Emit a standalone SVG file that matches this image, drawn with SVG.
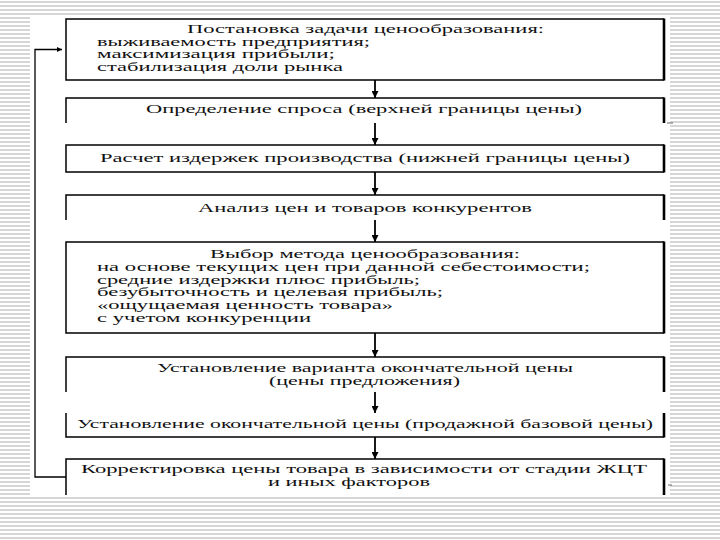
<svg xmlns="http://www.w3.org/2000/svg" width="720" height="540" viewBox="0 0 720 540">
<defs>
<pattern id="stripes" x="0" y="0" width="8" height="4" patternUnits="userSpaceOnUse">
<rect x="0" y="0" width="8" height="4" fill="#ffffff"/>
<rect x="0" y="1" width="8" height="2" fill="#d6d6d6"/>
</pattern>
<marker id="ah" viewBox="0 0 10 10" refX="10" refY="5" markerWidth="7" markerHeight="7" markerUnits="userSpaceOnUse" orient="auto">
<path d="M0,0 L10,5 L0,10 Z" fill="#000"/>
</marker>
<marker id="ahs" viewBox="0 0 10 10" refX="10" refY="5" markerWidth="6" markerHeight="5" markerUnits="userSpaceOnUse" orient="auto">
<path d="M0,0 L10,5 L0,10 Z" fill="#000"/>
</marker>
</defs>
<style>
.bx{fill:none;stroke:#000;stroke-width:1.5}
.rt{stroke:#000;stroke-width:2.6}
.t{font-family:"Liberation Serif","Times New Roman",serif;font-size:12.5px;fill:#111}
.ar{stroke:#000;stroke-width:1.8;fill:none;marker-end:url(#ah)}
.lp{stroke:#000;stroke-width:1.3;fill:none}
.dash{stroke:#666;stroke-width:1}
</style>
<rect x="0" y="0" width="720" height="540" fill="url(#stripes)"/>
<rect x="30" y="16" width="640" height="480" fill="#ffffff"/>

<g id="connectors">
<line class="ar" x1="375" y1="80" x2="375" y2="98"/>
<line class="ar" x1="375" y1="123" x2="375" y2="145"/>
<line class="ar" x1="375" y1="172" x2="375" y2="195"/>
<line class="ar" x1="375" y1="220" x2="375" y2="242"/>
<line class="ar" x1="375" y1="333" x2="375" y2="357"/>
<line class="ar" x1="375" y1="392" x2="375" y2="413"/>
<line class="ar" x1="375" y1="437" x2="375" y2="459"/>
<path class="lp" d="M66,477 H35 V49.5 H62" marker-end="url(#ahs)"/>
</g>

<g id="n1">
<path class="bx" d="M664,19 H66 V80 H664"/>
<line class="rt" x1="664" y1="18.5" x2="664" y2="80.5"/>
<text class="t" x="187" y="33" textLength="357" lengthAdjust="spacingAndGlyphs">Постановка задачи ценообразования:</text>
<text class="t" x="97" y="46" textLength="273" lengthAdjust="spacingAndGlyphs">выживаемость предприятия;</text>
<text class="t" x="97" y="58" textLength="238" lengthAdjust="spacingAndGlyphs">максимизация прибыли;</text>
<text class="t" x="97" y="71" textLength="246" lengthAdjust="spacingAndGlyphs">стабилизация доли рынка</text>
</g>

<g id="n2">
<path class="bx" d="M66,123 V98 H664"/>
<line class="rt" x1="664" y1="97.5" x2="664" y2="123"/>
<line class="dash" x1="667" y1="123" x2="673" y2="123"/>
<text class="t" x="146" y="113" textLength="436" lengthAdjust="spacingAndGlyphs">Определение спроса (верхней границы цены)</text>
</g>

<g id="n3">
<path class="bx" d="M664,145 H66 V172 H664"/>
<line class="rt" x1="664" y1="144.5" x2="664" y2="172.5"/>
<text class="t" x="100" y="162" textLength="530" lengthAdjust="spacingAndGlyphs">Расчет издержек производства (нижней границы цены)</text>
</g>

<g id="n4">
<path class="bx" d="M66,220 V195 H664"/>
<line class="rt" x1="664" y1="194.5" x2="664" y2="220"/>
<text class="t" x="198" y="212" textLength="334" lengthAdjust="spacingAndGlyphs">Анализ цен и товаров конкурентов</text>
</g>

<g id="n5">
<path class="bx" d="M664,242 H66 V333 H664"/>
<line class="rt" x1="664" y1="241.5" x2="664" y2="333.5"/>
<text class="t" x="210" y="258" textLength="310" lengthAdjust="spacingAndGlyphs">Выбор метода ценообразования:</text>
<text class="t" x="97" y="271" textLength="493" lengthAdjust="spacingAndGlyphs">на основе текущих цен при данной себестоимости;</text>
<text class="t" x="97" y="284" textLength="323" lengthAdjust="spacingAndGlyphs">средние издержки плюс прибыль;</text>
<text class="t" x="97" y="296" textLength="346" lengthAdjust="spacingAndGlyphs">безубыточность и целевая прибыль;</text>
<text class="t" x="97" y="309" textLength="296" lengthAdjust="spacingAndGlyphs">«ощущаемая ценность товара»</text>
<text class="t" x="97" y="322" textLength="214" lengthAdjust="spacingAndGlyphs">с учетом конкуренции</text>
</g>

<g id="n6">
<path class="bx" d="M66,392 V357 H664"/>
<line class="rt" x1="664" y1="356.5" x2="664" y2="392"/>
<text class="t" x="157" y="372" textLength="416" lengthAdjust="spacingAndGlyphs">Установление варианта окончательной цены</text>
<text class="t" x="269" y="385" textLength="191" lengthAdjust="spacingAndGlyphs">(цены предложения)</text>
</g>

<g id="n7">
<path class="bx" d="M66,413 V437 H664"/>
<line class="rt" x1="664" y1="413" x2="664" y2="437.5"/>
<text class="t" x="77" y="428" textLength="576" lengthAdjust="spacingAndGlyphs">Установление окончательной цены (продажной базовой цены)</text>
</g>

<g id="n8">
<path class="bx" d="M66,495 V459 H664"/>
<line class="rt" x1="664" y1="458.5" x2="664" y2="495"/>
<line class="dash" x1="668" y1="485" x2="672" y2="485"/>
<text class="t" x="81" y="473" textLength="566" lengthAdjust="spacingAndGlyphs">Корректировка цены товара в зависимости от стадии ЖЦТ</text>
<text class="t" x="268" y="486" textLength="162" lengthAdjust="spacingAndGlyphs">и иных факторов</text>
</g>
</svg>
